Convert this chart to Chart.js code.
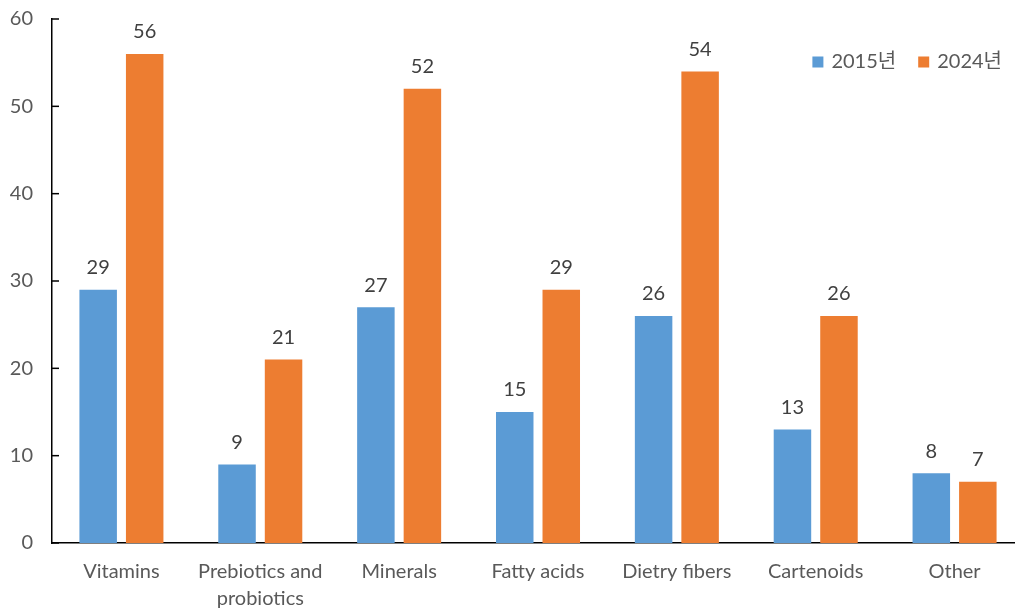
<!DOCTYPE html>
<html>
<head>
<meta charset="utf-8">
<script src="https://cdn.jsdelivr.net/npm/chart.js@4/dist/chart.umd.min.js"></script>
<style>
  html, body { margin: 0; padding: 0; background: #fff; overflow: hidden; }
</style>
</head>
<body>
<canvas id="chart" width="1024" height="609"></canvas>
<script>
const categories = ['Vitamins', ['Prebiotics and', 'probiotics'], 'Minerals', 'Fatty acids', 'Dietry fibers', 'Cartenoids', 'Other'];
const values2015 = [29, 9, 27, 15, 26, 13, 8];
const values2024 = [56, 21, 52, 29, 54, 26, 7];
const yTicks = [0, 10, 20, 30, 40, 50, 60];

const fontFamily = "Lato, 'Noto Sans CJK KR', sans-serif";

// etiquetas encima de cada barra
const barLabels = {
  id: 'barLabels',
  afterDatasetsDraw(chart) {
    const ctx = chart.ctx;
    ctx.save();
    ctx.font = '20px ' + fontFamily;
    ctx.fillStyle = '#404040';
    ctx.textAlign = 'center';
    ctx.textBaseline = 'middle';
    chart.data.datasets.forEach((ds, i) => {
      chart.getDatasetMeta(i).data.forEach((bar, j) => {
        ctx.fillText(ds.data[j], bar.x, bar.y - 22);
      });
    });
    ctx.restore();
  }
};

// marcas cortas hacia dentro en el eje Y
const innerTicks = {
  id: 'innerTicks',
  afterDraw(chart) {
    const y = chart.scales.y;
    const ctx = chart.ctx;
    ctx.save();
    ctx.strokeStyle = '#000';
    ctx.lineWidth = 1.5;
    y.ticks.forEach(t => {
      const py = y.getPixelForValue(t.value);
      ctx.beginPath();
      ctx.moveTo(chart.chartArea.left, py);
      ctx.lineTo(chart.chartArea.left + 7, py);
      ctx.stroke();
    });
    ctx.restore();
  }
};

// leyenda dentro del área, arriba a la derecha
const cornerLegend = {
  id: 'cornerLegend',
  afterDraw(chart) {
    const ctx = chart.ctx;
    const box = 11, gap = 8, between = 22;
    ctx.save();
    ctx.font = '20px ' + fontFamily;
    ctx.textBaseline = 'middle';
    ctx.textAlign = 'left';
    let x = chart.chartArea.right - 22;
    const y = 62;
    const items = chart.data.datasets.slice().reverse();
    items.forEach(ds => {
      const w = ctx.measureText(ds.label).width;
      x -= w;
      ctx.fillStyle = '#595959';
      ctx.fillText(ds.label, x, y);
      x -= gap + box;
      ctx.fillStyle = ds.backgroundColor;
      ctx.fillRect(x, y - box / 2, box, box);
      x -= between;
    });
    ctx.restore();
  }
};

new Chart(document.getElementById('chart'), {
  type: 'bar',
  data: {
    labels: categories,
    datasets: [
      { label: '2015년', data: values2015, backgroundColor: '#5B9BD5' },
      { label: '2024년', data: values2024, backgroundColor: '#ED7D31' }
    ]
  },
  options: {
    responsive: false,
    animation: false,
    layout: { padding: { top: 19, right: 0, left: 0, bottom: 0 } },
    datasets: { bar: { categoryPercentage: 0.67, barPercentage: 0.806 } },
    plugins: {
      tooltip: { enabled: false },
      legend: { display: false }
    },
    scales: {
      x: {
        grid: { display: false, drawTicks: false },
        border: { color: '#000', width: 1.5 },
        ticks: { color: '#595959', padding: 15, maxRotation: 0, autoSkip: false,
                 font: { family: fontFamily, size: 20, lineHeight: 1.35 } },
        afterFit(scale) { scale.height = 66; }
      },
      y: {
        min: 0,
        max: 60,
        afterBuildTicks(scale) { scale.ticks = yTicks.map(v => ({ value: v })); },
        grid: { display: false, drawTicks: false },
        border: { color: '#000', width: 1.5 },
        ticks: { color: '#595959', padding: 19, font: { family: fontFamily, size: 20 } },
        afterFit(scale) {
          scale.width = 52;
          scale.paddingTop = 0;
          scale.paddingBottom = 0;
        }
      }
    }
  },
  plugins: [barLabels, innerTicks, cornerLegend]
});
</script>
</body>
</html>
